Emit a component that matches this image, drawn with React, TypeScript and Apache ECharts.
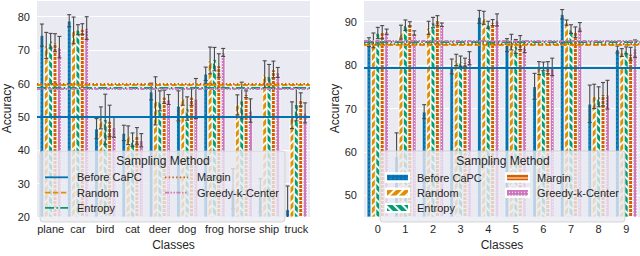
import React, { useEffect, useRef } from "react";
import * as echarts from "echarts";

const FONT = "'Liberation Sans', Arial, Helvetica, sans-serif";
const TEXT = "#262626";

const methods = ["Before CaPC", "Random", "Entropy", "Margin", "Greedy-k-Center"];
const colors = ["#0173b2", "#de8f05", "#029e73", "#d55e00", "#cc78bc"];

const cifarClasses = ["plane", "car", "bird", "cat", "deer", "dog", "frog", "horse", "ship", "truck"];
const digitClasses = ["0", "1", "2", "3", "4", "5", "6", "7", "8", "9"];

const cifarBefore = [74.5, 78.8, 46.5, 45.2, 57.6, 53.3, 62.9, 28.5, 26.5, 22.3];
const cifarRandom = [71.4, 75.9, 49.7, 44.5, 54.8, 56.0, 66.9, 53.6, 62.8, 50.5];
const cifarEntropy = [72.8, 76.1, 49.3, 43.2, 54.8, 52.5, 67.3, 54.9, 62.2, 53.8];
const cifarMargin = [72.2, 76.3, 48.8, 44.3, 56.0, 56.0, 65.4, 56.8, 64.2, 55.2];
const cifarGreedy = [70.9, 76.6, 46.9, 43.0, 55.2, 55.5, 69.3, 51.9, 63.3, 51.2];

const cifarBeforeErr = [3.3, 1.8, 3.0, 2.3, 2.5, 4.5, 2.0, 6.0, 5.0, 7.0];
const cifarRandomErr = [3.9, 4.0, 3.3, 2.8, 7.2, 2.5, 4.0, 3.0, 4.0, 4.0];
const cifarEntropyErr = [2.2, 1.5, 7.5, 2.0, 3.0, 3.5, 3.5, 5.5, 3.5, 5.0];
const cifarMarginErr = [2.7, 1.6, 4.7, 2.5, 2.0, 2.5, 3.5, 1.0, 2.5, 2.0];
const cifarGreedyErr = [3.2, 3.4, 3.0, 2.0, 1.5, 6.0, 1.2, 3.5, 1.5, 3.0];

const digitBefore = [85.3, 59.0, 69.3, 79.7, 91.1, 84.6, 75.1, 91.7, 71.1, 83.6];
const digitRandom = [85.7, 87.6, 88.6, 81.2, 90.9, 85.3, 79.3, 89.8, 72.8, 82.9];
const digitEntropy = [87.4, 89.2, 89.8, 80.9, 89.3, 84.3, 79.7, 88.3, 72.7, 83.4];
const digitMargin = [87.6, 89.5, 90.3, 80.6, 89.8, 85.2, 79.4, 87.6, 73.3, 82.6];
const digitGreedy = [87.7, 87.4, 89.3, 81.6, 90.4, 84.2, 79.6, 88.8, 73.2, 83.8];

const digitBeforeErr = [1.0, 5.4, 1.6, 1.7, 1.5, 1.5, 3.0, 1.1, 4.3, 0.8];
const digitRandomErr = [1.7, 1.6, 1.5, 1.3, 1.5, 1.8, 1.5, 0.6, 2.8, 0.9];
const digitEntropyErr = [1.3, 1.2, 1.2, 1.2, 0.8, 1.6, 1.0, 1.0, 2.3, 0.8];
const digitMarginErr = [1.5, 0.5, 1.1, 1.0, 0.7, 1.6, 1.4, 1.2, 2.7, 1.5];
const digitGreedyErr = [0.6, 0.5, 0.4, 1.5, 1.4, 1.3, 2.0, 1.0, 3.3, 2.0];

const cifarMeans = [50.0, 59.5, 58.8, 59.9, 58.4];
const digitMeans = [79.5, 84.8, 85.3, 84.9, 85.6];

const values = [
  [cifarBefore, cifarRandom, cifarEntropy, cifarMargin, cifarGreedy],
  [digitBefore, digitRandom, digitEntropy, digitMargin, digitGreedy],
];
const errors = [
  [cifarBeforeErr, cifarRandomErr, cifarEntropyErr, cifarMarginErr, cifarGreedyErr],
  [digitBeforeErr, digitRandomErr, digitEntropyErr, digitMarginErr, digitGreedyErr],
];
const means = [cifarMeans, digitMeans];
const yMins = [20, 45];

const lineDashes: (number[] | "solid")[] = ["solid", [5.5, 2.4], [9, 2.4, 1.5, 2.4], [1.5, 2.2], [4, 1.5, 1.5, 1.5, 1.5, 1.5]];

const decals: any[] = [
  { symbol: "circle", symbolSize: 0.6, color: "rgba(255,255,255,0.3)", dashArrayX: [2, 2], dashArrayY: [2, 2] },
  { symbol: "rect", symbolSize: 1, color: "rgba(255,255,255,0.95)", dashArrayX: [1, 0], dashArrayY: [1.2, 3.5], rotation: -Math.PI / 4 },
  { symbol: "rect", symbolSize: 1, color: "rgba(255,255,255,0.95)", dashArrayX: [1, 0], dashArrayY: [1.2, 3.5], rotation: Math.PI / 4 },
  { symbol: "rect", symbolSize: 1, color: "rgba(255,255,255,0.95)", dashArrayX: [1, 0], dashArrayY: [1, 2.5], rotation: 0 },
  { symbol: "rect", symbolSize: 1, color: "rgba(255,255,255,0.9)", dashArrayX: [1, 2], dashArrayY: [1, 2] },
];

function buildOption() {
  const grids = [
    { left: 35, top: 0, width: 275, height: 224 },
    { left: 364, top: 0, width: 276, height: 224 },
  ].map((g) => ({ ...g, show: true, backgroundColor: "#eaeaf2", borderWidth: 0, containLabel: false }));

  const xAxes = [cifarClasses, digitClasses].map((cats, i) => ({
    type: "category",
    gridIndex: i,
    data: cats,
    axisLine: { show: false },
    axisTick: { show: false },
    axisLabel: { interval: 0, fontSize: 11, color: TEXT, fontFamily: FONT, margin: 6 },
    name: "Classes",
    nameLocation: "middle",
    nameGap: 20,
    nameTextStyle: { fontSize: 12, color: TEXT, fontFamily: FONT },
  }));

  const yAxes = [
    { min: 20, max: 85, interval: 10, nameGap: 24 },
    { min: 45, max: 95, splitNumber: 5, nameGap: 20 },
  ].map((y, i) => ({
    type: "value",
    gridIndex: i,
    min: y.min,
    max: y.max,
    ...(y.interval ? { interval: y.interval } : { splitNumber: y.splitNumber }),
    axisLine: { show: false },
    axisTick: { show: false },
    axisLabel: { fontSize: 11, color: TEXT, fontFamily: FONT, margin: 7, showMinLabel: i === 0, showMaxLabel: false },
    splitLine: { show: true, lineStyle: { color: "#ffffff", width: 1 } },
    name: "Accuracy",
    nameLocation: "middle",
    nameGap: y.nameGap,
    nameTextStyle: { fontSize: 12, color: TEXT, fontFamily: FONT },
  }));

  const series: any[] = [];
  for (let c = 0; c < 2; c++) {
    for (let m = 0; m < 5; m++) {
      series.push({
        type: "bar",
        name: methods[m],
        xAxisIndex: c,
        yAxisIndex: c,
        data: values[c][m],
        barGap: "0%",
        barCategoryGap: "20%",
        silent: true,
        z: 2,
        itemStyle: { color: colors[m], borderColor: "#ffffff", borderWidth: 0.5, decal: decals[m] },
        markLine: {
          silent: true,
          symbol: ["none", "none"],
          label: { show: false },
          z: 5,
          lineStyle: { color: colors[m], width: 1.8, type: lineDashes[m], opacity: 1 },
          data: [{ yAxis: means[c][m] }],
        },
      });
    }
  }
  for (let c = 0; c < 2; c++) {
    for (let m = 0; m < 5; m++) {
      const vals = values[c][m];
      const errs = errors[c][m];
      const yMin = yMins[c];
      series.push({
        type: "custom",
        name: methods[m] + " error",
        xAxisIndex: c,
        yAxisIndex: c,
        silent: true,
        z: 3,
        data: vals.map((v, i) => [i, v - errs[i], v + errs[i]]),
        encode: { x: 0, y: [1, 2] },
        renderItem: (params: any, api: any) => {
          const cat = api.value(0);
          const rawLo = api.value(1);
          const lo = Math.max(rawLo, yMin);
          const hi = api.value(2);
          const band = api.size([1, 0])[0];
          const off = (-0.32 + 0.16 * m) * band;
          const pLo = api.coord([cat, lo]);
          const pHi = api.coord([cat, hi]);
          const x = pLo[0] + off;
          const cap = 2;
          const st = { stroke: "#4a4a4a", lineWidth: 1.1 };
          const children: any[] = [
            { type: "line", shape: { x1: x, y1: pLo[1], x2: x, y2: pHi[1] }, style: st },
            { type: "line", shape: { x1: x - cap, y1: pHi[1], x2: x + cap, y2: pHi[1] }, style: st },
          ];
          if (rawLo >= yMin) {
            children.push({ type: "line", shape: { x1: x - cap, y1: pLo[1], x2: x + cap, y2: pLo[1] }, style: st });
          }
          return { type: "group", children };
        },
      });
    }
  }

  // legend boxes
  const graphics: any[] = [];
  const boxes = [40, 380];
  boxes.forEach((bx) => {
    graphics.push({
      type: "rect",
      z: 50,
      silent: true,
      shape: { x: bx, y: 151, width: 245, height: 71, r: 3 },
      style: { fill: "rgba(234,234,242,0.8)", stroke: "rgba(204,204,204,0.8)", lineWidth: 1 },
    });
    graphics.push({
      type: "text",
      z: 52,
      silent: true,
      x: bx + 123,
      y: 161,
      style: {
        text: "Sampling Method",
        fontSize: 12,
        fontFamily: FONT,
        fill: TEXT,
        align: "center",
        verticalAlign: "middle",
        textAlign: "center",
        textVerticalAlign: "middle",
      },
    });
  });
  // left legend entries (line styles)
  const rowsY = [177.3, 192.6, 207.8];
  methods.forEach((name, m) => {
    const col = m < 3 ? 0 : 1;
    const row = m < 3 ? m : m - 3;
    const x1 = col === 0 ? 45 : 165;
    const y = rowsY[row];
    const dash = lineDashes[m];
    graphics.push({
      type: "line",
      z: 52,
      silent: true,
      shape: { x1, y1: y, x2: x1 + 23, y2: y },
      style: { stroke: colors[m], lineWidth: 1.8, lineDash: dash === "solid" ? null : dash },
    });
    graphics.push({
      type: "text",
      z: 52,
      silent: true,
      x: x1 + 32,
      y,
      style: {
        text: name,
        fontSize: 11,
        fontFamily: FONT,
        fill: TEXT,
        align: "left",
        verticalAlign: "middle",
        textAlign: "left",
        textVerticalAlign: "middle",
      },
    });
  });

  const legendCommon = {
    orient: "vertical",
    top: 172,
    itemWidth: 23,
    itemHeight: 8,
    itemGap: 4.3,
    icon: "rect",
    padding: 0,
    z: 60,
    selectedMode: false,
    textStyle: { fontSize: 11, fontFamily: FONT, color: TEXT, padding: [0, 0, 0, 3] },
  };

  return {
    animation: false,
    backgroundColor: "#ffffff",
    grid: grids,
    xAxis: xAxes,
    yAxis: yAxes,
    legend: [
      { ...legendCommon, left: 385, data: methods.slice(0, 3) },
      { ...legendCommon, left: 505, data: methods.slice(3) },
    ],
    graphic: { elements: graphics },
    series,
  };
}

export default function App() {
  const ref = useRef<HTMLDivElement>(null);
  useEffect(() => {
    if (!ref.current) return;
    const chart = echarts.init(ref.current, undefined, { renderer: "svg" });
    chart.setOption(buildOption() as any);
    return () => chart.dispose();
  }, []);
  return (
    <div
      ref={ref}
      style={{ position: "absolute", left: 0, top: 0, width: 640, height: 256 }}
    />
  );
}
